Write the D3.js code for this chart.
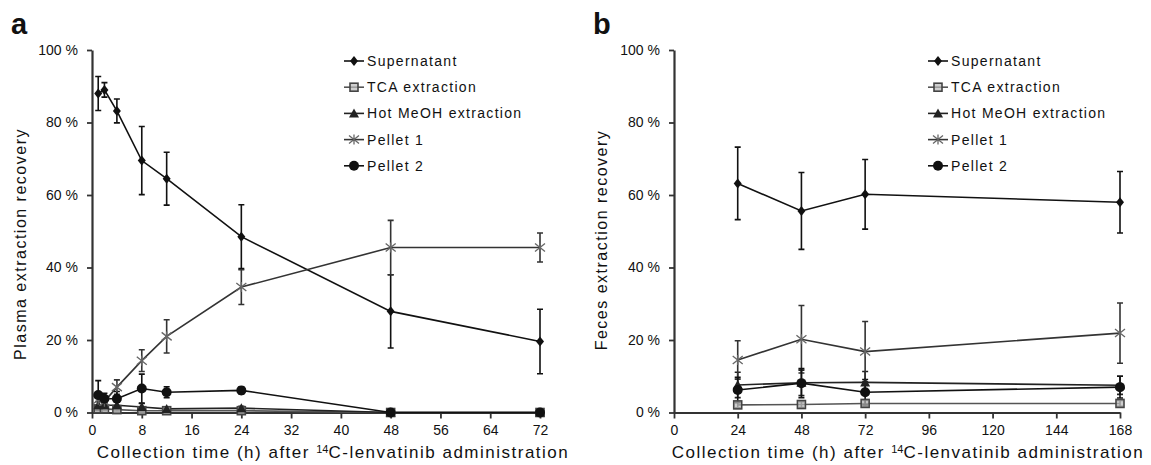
<!DOCTYPE html>
<html lang="en-US">
<head>
    <script src="https://d3js.org/d3.v7.min.js"></script>
</head>
<body style="margin:0;background:#fff">
<style>
    svg text { font-family: "Liberation Sans", Arial, sans-serif; fill: #111; }
</style>
<svg width="1151" height="465"></svg>

<script>
// ---- data (values in %) ----
var seriesNames = ["Supernatant", "TCA extraction", "Hot MeOH extraction", "Pellet 1", "Pellet 2"];

var plasmaTimes = [1, 2, 4, 8, 12, 24, 48, 72];
var plasmaSupernatant   = [88, 89, 83.2, 69.5, 64.5, 48.5, 27.9, 19.6];
var plasmaSupernatantSD = [4.7, 2, 3.3, 9.4, 7.3, 8.8, 10.1, 8.9];
var plasmaTCA           = [1, 1, 0.8, 0.5, 0.5, 0.5, 0, 0];
var plasmaTCASD         = [0.5, 0.5, 0.4, 0.3, 0.3, 0.3, 0, 0];
var plasmaHotMeOH       = [2, 2, 2, 1.5, 1, 1.2, 0, 0];
var plasmaHotMeOHSD     = [1, 1, 1, 1, 0.5, 0.5, 0, 0];
var plasmaPellet1       = [3.5, 3, 7, 14.3, 21, 34.6, 45.5, 45.5];
var plasmaPellet1SD     = [2, 1.5, 2, 3, 4.6, 4.8, 7.5, 4];
var plasmaPellet2       = [4.8, 3.8, 3.8, 6.6, 5.6, 6.1, 0, 0];
var plasmaPellet2SD     = [4, 1.5, 2, 4, 1.5, 1, 0, 0];

var fecesTimes = [24, 48, 72, 168];
var fecesSupernatant   = [63.2, 55.6, 60.2, 58];
var fecesSupernatantSD = [10, 10.6, 9.6, 8.5];
var fecesTCA           = [2.1, 2.2, 2.5, 2.5];
var fecesTCASD         = [0.8, 0.8, 0.8, 0.8];
var fecesHotMeOH       = [7.6, 8.2, 8.3, 7.5];
var fecesHotMeOHSD     = [3.5, 3.5, 3, 2.5];
var fecesPellet1       = [14.5, 20.2, 16.8, 21.9];
var fecesPellet1SD     = [5.3, 9.3, 8.3, 8.3];
var fecesPellet2       = [6.2, 8.1, 5.6, 7];
var fecesPellet2SD     = [3.5, 4, 3.5, 3];

var yTicks = [0, 20, 40, 60, 80, 100];
var plasmaXTicks = [0, 8, 16, 24, 32, 40, 48, 56, 64, 72];
var fecesXTicks = [0, 24, 48, 72, 96, 120, 144, 168];

// ---- styling per series ----
var markerType = ["diamond", "square", "triangle", "star", "circle"];
var lineColor = ["#111", "#555", "#222", "#333", "#111"];

var svg = d3.select("svg");

function drawMarker(g, type, x, y, color) {
    if (type === "diamond") {
        g.append("path").attr("d", `M${x},${y-5}L${x+4},${y}L${x},${y+5}L${x-4},${y}Z`).attr("fill", color);
    } else if (type === "square") {
        g.append("rect").attr("x", x-4).attr("y", y-4).attr("width", 8).attr("height", 8)
            .attr("fill", "#bbb").attr("fill-opacity", 0.7).attr("stroke", "#444").attr("stroke-width", 1.6);
    } else if (type === "triangle") {
        g.append("path").attr("d", `M${x},${y-5}L${x+5},${y+4}L${x-5},${y+4}Z`).attr("fill", color);
    } else if (type === "star") {
        g.append("path").attr("d", `M${x-5},${y-4}L${x+5},${y+4}M${x-5},${y+4}L${x+5},${y-4}M${x},${y-5}L${x},${y+5}`)
            .attr("stroke", "#666").attr("stroke-width", 1.3).attr("fill", "none");
    } else {
        g.append("circle").attr("cx", x).attr("cy", y).attr("r", 5).attr("fill", color);
    }
}

function panel(opts) {
    var x = d3.scaleLinear().domain([0, opts.xMax]).range([opts.left, opts.right]);
    var y = d3.scaleLinear().domain([0, 100]).range([412.5, 50]);
    var g = svg.append("g");

    // axes
    var yAxis = g.append("g").attr("transform", `translate(${opts.left},0)`)
        .call(d3.axisLeft(y).tickValues(yTicks).tickSize(5).tickSizeOuter(0).tickFormat(d => d + " %"));
    var xAxis = g.append("g").attr("transform", `translate(0,412.5)`)
        .call(d3.axisBottom(x).tickValues(opts.xTicks).tickSize(6).tickSizeOuter(0));
    [yAxis, xAxis].forEach(a => {
        a.select(".domain").attr("stroke", "#333").attr("stroke-width", 2.2);
        a.selectAll(".tick line").attr("stroke", "#333").attr("stroke-width", 1.8);
        a.selectAll(".tick text").attr("font-size", 14).attr("fill", "#111")
            .attr("font-family", '"Liberation Sans", Arial, sans-serif');
    });
    yAxis.selectAll(".tick text").attr("x", -14);
    xAxis.selectAll(".tick text").attr("y", 13);

    // series
    opts.series.forEach(function(s, i) {
        var pts = opts.times.map((t, k) => ({t: t, v: s.mean[k], e: s.sd[k]}));
        var sg = g.append("g");
        sg.append("path").datum(pts)
            .attr("d", d3.line().x(d => x(d.t)).y(d => y(d.v)))
            .attr("fill", "none").attr("stroke", lineColor[i]).attr("stroke-width", 1.6);
        pts.forEach(function(d) {
            if (d.e > 0) {
                var x0 = x(d.t), y1 = y(d.v + d.e), y2 = y(Math.max(0, d.v - d.e));
                sg.append("path").attr("d", `M${x0},${y1}V${y2}M${x0-3},${y1}H${x0+3}M${x0-3},${y2}H${x0+3}`)
                    .attr("stroke", lineColor[i]).attr("stroke-width", 1.6).attr("fill", "none");
            }
        });
    });
    opts.series.forEach(function(s, i) {
        var sg = g.append("g");
        opts.times.forEach((t, k) => drawMarker(sg, markerType[i], x(t), y(s.mean[k]), lineColor[i]));
    });

    // legend
    seriesNames.forEach(function(name, i) {
        var ly = 61 + i * 26.2;
        var lg = g.append("g");
        lg.append("line").attr("x1", opts.legendX).attr("x2", opts.legendX + 20)
            .attr("y1", ly).attr("y2", ly).attr("stroke", lineColor[i]).attr("stroke-width", 1.6);
        drawMarker(lg, markerType[i], opts.legendX + 10, ly, lineColor[i]);
        lg.append("text").attr("x", opts.legendX + 23).attr("y", ly + 5)
            .attr("font-size", 14).attr("letter-spacing", 1.3).text(name);
    });

    // titles
    g.append("text").attr("x", opts.letterX).attr("y", 34).attr("font-size", 29).attr("font-weight", "bold")
        .attr("fill", "#000").text(opts.letter);
    g.append("text").attr("transform", `translate(${opts.yTitleX},${opts.yTitleY}) rotate(-90)`)
        .attr("text-anchor", "middle").attr("font-size", 16).attr("letter-spacing", 1.5).text(opts.yTitle);
    var xt = g.append("text").attr("x", opts.xTitleX).attr("y", 458)
        .attr("text-anchor", "middle").attr("font-size", 17).attr("letter-spacing", 1.5);
    xt.append("tspan").text("Collection time (h) after ");
    xt.append("tspan").attr("font-size", 11).attr("letter-spacing", 0).attr("dy", -5).text("14");
    xt.append("tspan").attr("dy", 5).text("C-lenvatinib administration");
}

panel({
    left: 92, right: 540, xMax: 72, xTicks: plasmaXTicks, times: plasmaTimes,
    series: [
        {mean: plasmaSupernatant, sd: plasmaSupernatantSD},
        {mean: plasmaTCA, sd: plasmaTCASD},
        {mean: plasmaHotMeOH, sd: plasmaHotMeOHSD},
        {mean: plasmaPellet1, sd: plasmaPellet1SD},
        {mean: plasmaPellet2, sd: plasmaPellet2SD}
    ],
    legendX: 344, letter: "a", letterX: 11, yTitle: "Plasma extraction recovery", yTitleX: 26, yTitleY: 244, xTitleX: 333
});

panel({
    left: 674, right: 1120, xMax: 168, xTicks: fecesXTicks, times: fecesTimes,
    series: [
        {mean: fecesSupernatant, sd: fecesSupernatantSD},
        {mean: fecesTCA, sd: fecesTCASD},
        {mean: fecesHotMeOH, sd: fecesHotMeOHSD},
        {mean: fecesPellet1, sd: fecesPellet1SD},
        {mean: fecesPellet2, sd: fecesPellet2SD}
    ],
    legendX: 928, letter: "b", letterX: 593, yTitle: "Feces extraction recovery", yTitleX: 607, yTitleY: 240, xTitleX: 908
});
</script>
</body>
</html>
